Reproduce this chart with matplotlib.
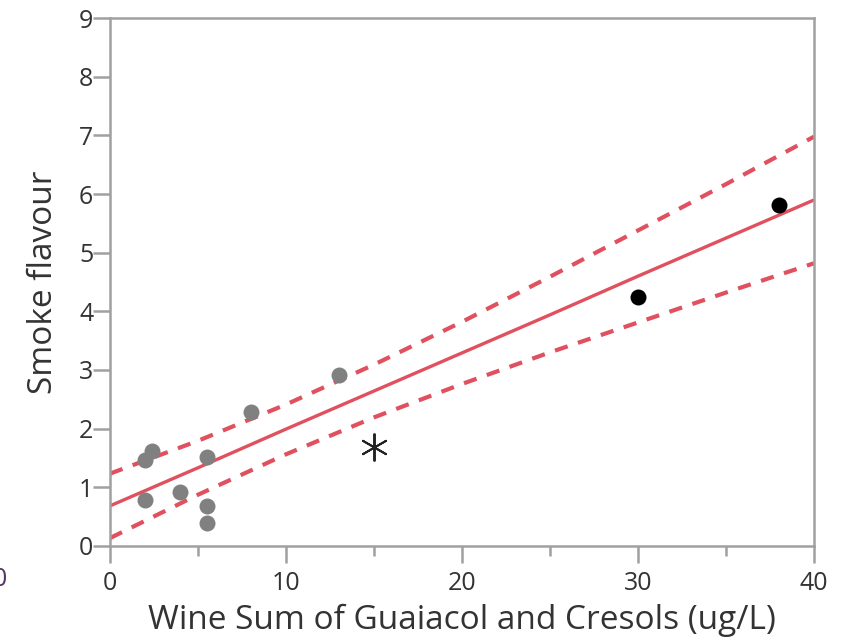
import matplotlib.pyplot as plt
from matplotlib.ticker import MultipleLocator

# points
gray_x = [2, 2, 2.4, 4, 5.5, 5.5, 5.5, 8, 13]
gray_y = [0.78, 1.46, 1.61, 0.91, 1.51, 0.67, 0.38, 2.28, 2.92]
black_x = [30, 38]
black_y = [4.25, 5.81]
outlier_x = [15]
outlier_y = [1.69]

# fitted line and confidence band, read at regular x positions
band_x = [0, 5, 10, 15, 20, 25, 30, 35, 40]
fit_y = [0.68, 1.33, 1.99, 2.64, 3.29, 3.94, 4.60, 5.25, 5.90]
upper_y = [1.23, 1.79, 2.41, 3.09, 3.82, 4.59, 5.38, 6.17, 6.98]
lower_y = [0.13, 0.87, 1.56, 2.19, 2.76, 3.30, 3.81, 4.32, 4.82]

x_ticks = [0, 10, 20, 30, 40]
y_ticks = list(range(10))

line_col = '#e0505f'
axis_col = '#a0a0a0'
text_col = '#333333'

plt.rcParams['font.family'] = ['Open Sans', 'DejaVu Sans']

fig = plt.figure(figsize=(8.54, 6.37), dpi=100)
ax = fig.add_axes([0.1288, 0.1433, 0.8244, 0.828])

ax.plot(band_x, fit_y, color=line_col, lw=2.4, solid_capstyle='butt', zorder=2)
ax.plot(band_x, upper_y, color=line_col, lw=3, dashes=(3.2, 2.6), zorder=2)
ax.plot(band_x, lower_y, color=line_col, lw=3, dashes=(3.2, 2.6), zorder=2)

ax.plot(gray_x, gray_y, 'o', color='#808080', ms=11.5, mec='none', zorder=3)
ax.plot(black_x, black_y, 'o', color='black', ms=11.5, mec='none', zorder=3)
ax.plot(outlier_x, outlier_y, marker=(6, 2, 0), ls='none', color='#222222',
        ms=20, mew=1.4, zorder=3)

ax.set_xlim(0, 40)
ax.set_ylim(0, 9)
ax.set_xticks(x_ticks)
ax.xaxis.set_minor_locator(MultipleLocator(5))
ax.set_yticks(y_ticks)

for s in ax.spines.values():
    s.set_color(axis_col)
    s.set_linewidth(1.8)

ax.tick_params(axis='both', which='major', length=12, width=1.8, color=axis_col,
               labelsize=18, labelcolor=text_col)
ax.tick_params(axis='x', which='major', pad=6)
ax.tick_params(axis='y', which='major', pad=0)
ax.tick_params(axis='x', which='minor', length=7, width=1.8, color=axis_col)

ax.set_xlabel('Wine Sum of Guaiacol and Cresols (ug/L)', fontsize=24,
              color=text_col, labelpad=6)
ax.set_ylabel('Smoke flavour', fontsize=24, color=text_col, labelpad=14)

# clipped tick label from neighbouring panel
fig.text(0.0, 1 - 580 / 637, '0', fontsize=18, color='#553366',
         ha='center', va='center')

fig.savefig('out.png', dpi=100)
